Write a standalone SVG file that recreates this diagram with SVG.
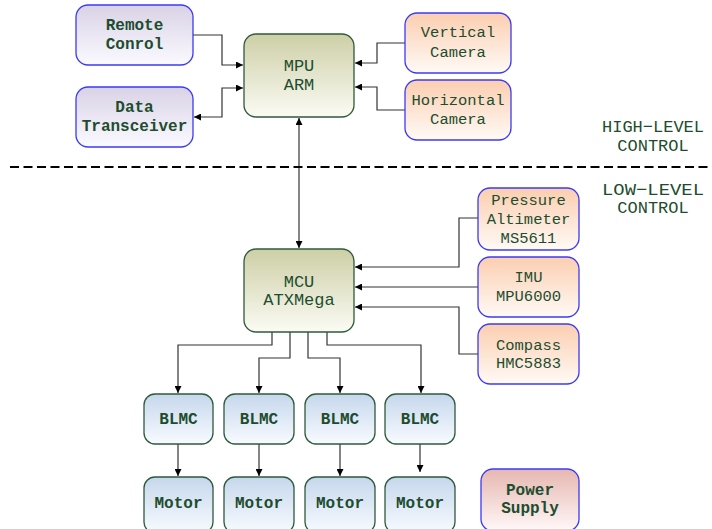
<svg xmlns="http://www.w3.org/2000/svg" width="712" height="529" viewBox="0 0 712 529">
<defs>
<linearGradient id="gLav" x1="0" y1="0" x2="0" y2="1"><stop offset="0" stop-color="#d9d2e6"/><stop offset="1" stop-color="#fbfaff"/></linearGradient>
<linearGradient id="gOl" x1="0" y1="0" x2="0" y2="1"><stop offset="0" stop-color="#cdcfa6"/><stop offset="1" stop-color="#fbfbf4"/></linearGradient>
<linearGradient id="gPe" x1="0" y1="0" x2="0" y2="1"><stop offset="0" stop-color="#fbceb0"/><stop offset="1" stop-color="#fffaf6"/></linearGradient>
<linearGradient id="gBl" x1="0" y1="0" x2="0" y2="1"><stop offset="0" stop-color="#c6d7ec"/><stop offset="1" stop-color="#f8fbff"/></linearGradient>
<linearGradient id="gPk" x1="0" y1="0" x2="0" y2="1"><stop offset="0" stop-color="#e6b7b0"/><stop offset="1" stop-color="#fff8f8"/></linearGradient>
<marker id="ah" viewBox="0 0 10 10" refX="10" refY="5" markerWidth="7" markerHeight="7" markerUnits="userSpaceOnUse" orient="auto-start-reverse"><path d="M0,0 L10,5 L0,10 z" fill="#000"/></marker>
</defs>
<style>
text{font-family:"Liberation Mono","DejaVu Sans Mono",monospace;font-size:15.5px;fill:#1d4d2e;text-anchor:middle}
.b{font-weight:bold;font-size:16px}
.L{font-size:17px}
.bx{stroke-width:1.3}
.blue{stroke:#3b3bf5}
.grn{stroke:#2f5a3c}
.c{fill:none;stroke:#333;stroke-width:1.2}
</style>
<g id="connectors">
<path class="c" d="M193,35 H222 V65 H243" marker-end="url(#ah)"/>
<path class="c" d="M243,88 H222 V117 H194" marker-start="url(#ah)" marker-end="url(#ah)"/>
<path class="c" d="M405,43 H377 V63 H355" marker-end="url(#ah)"/>
<path class="c" d="M405,110 H377 V87 H355" marker-end="url(#ah)"/>
<path class="c" d="M299,118 V248" marker-start="url(#ah)" marker-end="url(#ah)"/>
<path class="c" d="M478,218 H459 V267 H355" marker-end="url(#ah)"/>
<path class="c" d="M478,287 H355" marker-end="url(#ah)"/>
<path class="c" d="M478,354 H459 V307 H355" marker-end="url(#ah)"/>
<path class="c" d="M272,332 V345 H178 V393" marker-end="url(#ah)"/>
<path class="c" d="M290,332 V358 H259 V393" marker-end="url(#ah)"/>
<path class="c" d="M308,332 V358 H340 V393" marker-end="url(#ah)"/>
<path class="c" d="M327,332 V345 H421 V393" marker-end="url(#ah)"/>
<path class="c" d="M178,444 V476" marker-end="url(#ah)"/>
<path class="c" d="M259,444 V476" marker-end="url(#ah)"/>
<path class="c" d="M340,444 V476" marker-end="url(#ah)"/>
<path class="c" d="M420,444 V472" marker-end="url(#ah)"/>
</g>
<g id="divider">
<line x1="10" y1="167" x2="712" y2="167" stroke="#000" stroke-width="2" stroke-dasharray="9,4.5"/>
<text class="L" x="653" y="132" textLength="102" lengthAdjust="spacingAndGlyphs">HIGH−LEVEL</text>
<text class="L" x="653" y="151">CONTROL</text>
<text class="L" x="653" y="195" textLength="102" lengthAdjust="spacingAndGlyphs">LOW−LEVEL</text>
<text class="L" x="653" y="213">CONTROL</text>
</g>
<g id="remote"><rect class="bx blue" x="76" y="5" width="117" height="60" rx="12" fill="url(#gLav)"/><text class="b" x="134.5" y="30">Remote</text><text class="b" x="134.5" y="49">Conrol</text></g>
<g id="transceiver"><rect class="bx blue" x="76" y="87" width="117" height="60" rx="12" fill="url(#gLav)"/><text class="b" x="134.5" y="112">Data</text><text class="b" x="134.5" y="131">Transceiver</text></g>
<g id="mpu"><rect class="bx grn" x="244" y="34" width="110" height="83" rx="12" fill="url(#gOl)"/><text class="L" x="299" y="71">MPU</text><text class="L" x="299" y="90">ARM</text></g>
<g id="vcam"><rect class="bx blue" x="405" y="13" width="106" height="60" rx="12" fill="url(#gPe)"/><text x="458" y="37">Vertical</text><text x="458" y="57">Camera</text></g>
<g id="hcam"><rect class="bx blue" x="405" y="80" width="106" height="60" rx="12" fill="url(#gPe)"/><text x="458" y="105">Horizontal</text><text x="458" y="124">Camera</text></g>
<g id="mcu"><rect class="bx grn" x="244" y="249" width="110" height="83" rx="12" fill="url(#gOl)"/><text class="L" x="299" y="287">MCU</text><text class="L" x="299" y="305">ATXMega</text></g>
<g id="pressure"><rect class="bx blue" x="478" y="188" width="101" height="62" rx="12" fill="url(#gPe)"/><text x="528.5" y="205">Pressure</text><text x="528.5" y="224">Altimeter</text><text x="528.5" y="243">MS5611</text></g>
<g id="imu"><rect class="bx blue" x="478" y="257" width="101" height="60" rx="12" fill="url(#gPe)"/><text x="528.5" y="282">IMU</text><text x="528.5" y="301">MPU6000</text></g>
<g id="compass"><rect class="bx blue" x="478" y="324" width="101" height="60" rx="12" fill="url(#gPe)"/><text x="528.5" y="350">Compass</text><text x="528.5" y="368">HMC5883</text></g>
<g id="blmc1"><rect class="bx grn" x="144" y="394" width="69" height="50" rx="11" fill="url(#gBl)"/><text class="b" x="178.5" y="424">BLMC</text></g>
<g id="blmc2"><rect class="bx grn" x="224" y="394" width="70" height="50" rx="11" fill="url(#gBl)"/><text class="b" x="259" y="424">BLMC</text></g>
<g id="blmc3"><rect class="bx grn" x="305" y="394" width="70" height="50" rx="11" fill="url(#gBl)"/><text class="b" x="340" y="424">BLMC</text></g>
<g id="blmc4"><rect class="bx grn" x="385" y="394" width="70" height="50" rx="11" fill="url(#gBl)"/><text class="b" x="420" y="424">BLMC</text></g>
<g id="motor1"><rect class="bx grn" x="144" y="477" width="69" height="56" rx="11" fill="url(#gBl)"/><text class="b" x="178.5" y="508">Motor</text></g>
<g id="motor2"><rect class="bx grn" x="224" y="477" width="70" height="56" rx="11" fill="url(#gBl)"/><text class="b" x="259" y="508">Motor</text></g>
<g id="motor3"><rect class="bx grn" x="305" y="477" width="70" height="56" rx="11" fill="url(#gBl)"/><text class="b" x="340" y="508">Motor</text></g>
<g id="motor4"><rect class="bx grn" x="385" y="477" width="70" height="56" rx="11" fill="url(#gBl)"/><text class="b" x="420" y="508">Motor</text></g>
<g id="power"><rect class="bx blue" x="481" y="469" width="98" height="62" rx="12" fill="url(#gPk)"/><text class="b" x="530" y="495">Power</text><text class="b" x="530" y="513">Supply</text></g>
</svg>
